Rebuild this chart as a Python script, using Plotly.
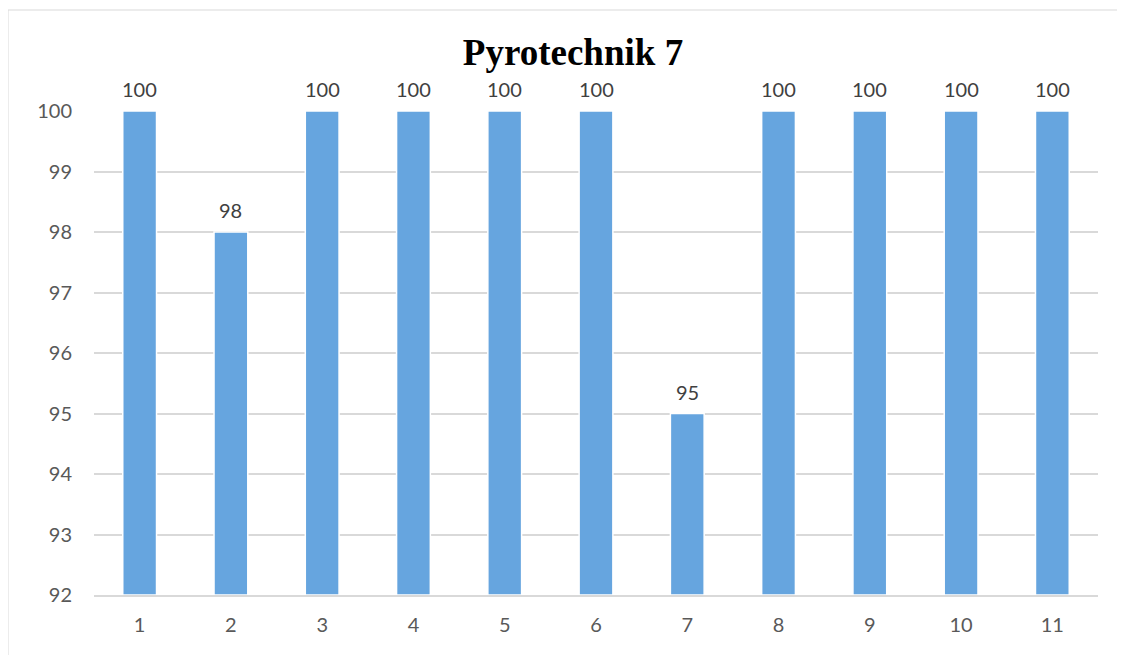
import plotly.graph_objects as go

categories = ["1", "2", "3", "4", "5", "6", "7", "8", "9", "10", "11"]
values = [100, 98, 100, 100, 100, 100, 95, 100, 100, 100, 100]
y_ticks = [92, 93, 94, 95, 96, 97, 98, 99, 100]
title_text = "Pyrotechnik 7"

# page body has an 8px margin, so the figure is offset by 8px
W, H = 1117, 647
ml, mr, mt, mb = 86, 27, 103, 60
pw, ph = W - ml - mr, H - mt - mb

fig = go.Figure()
fig.add_trace(go.Bar(
    x=categories,
    y=[v - 92 for v in values],
    base=92,
    marker=dict(color="#66A5DF", line=dict(color="#FFFFFF", width=1.5)),
    hoverinfo="skip",
))

for i, v in enumerate(values):
    fig.add_annotation(x=i, y=v, text=str(v), showarrow=False,
                       yanchor="bottom", yshift=8,
                       font=dict(family="Lato", size=20, color="#404040"))

fig.update_layout(
    width=W, height=H,
    margin=dict(l=ml, r=mr, t=mt, b=mb),
    paper_bgcolor="#FFFFFF",
    plot_bgcolor="#FFFFFF",
    bargap=0.63,
    showlegend=False,
    title=dict(text="<b>" + title_text + "</b>", x=(573 - 8) / W, xanchor="center",
               y=1 - (52 - 8) / H, yanchor="middle",
               font=dict(family="Liberation Serif", size=37, color="#000000")),
    xaxis=dict(type="category", range=[-0.5, len(categories) - 0.5],
               showgrid=False, showline=True,
               linecolor="#D9D9D9", linewidth=2, ticks="",
               tickfont=dict(family="Lato", size=20, color="#595959"),
               ticklabelstandoff=11),
    yaxis=dict(range=[92, 100], tickvals=y_ticks, showgrid=True,
               gridcolor="#D9D9D9", gridwidth=2, zeroline=False,
               showline=False, ticks="",
               tickfont=dict(family="Lato", size=20, color="#595959"),
               ticklabelstandoff=21),
    shapes=[dict(type="rect", xref="paper", yref="paper",
                 x0=-ml / pw, x1=1.2, y0=-0.3,
                 y1=(H - mb - 2) / ph,
                 line=dict(color="#D9D9D9", width=1), layer="below")],
)

fig.write_html("out.html")
